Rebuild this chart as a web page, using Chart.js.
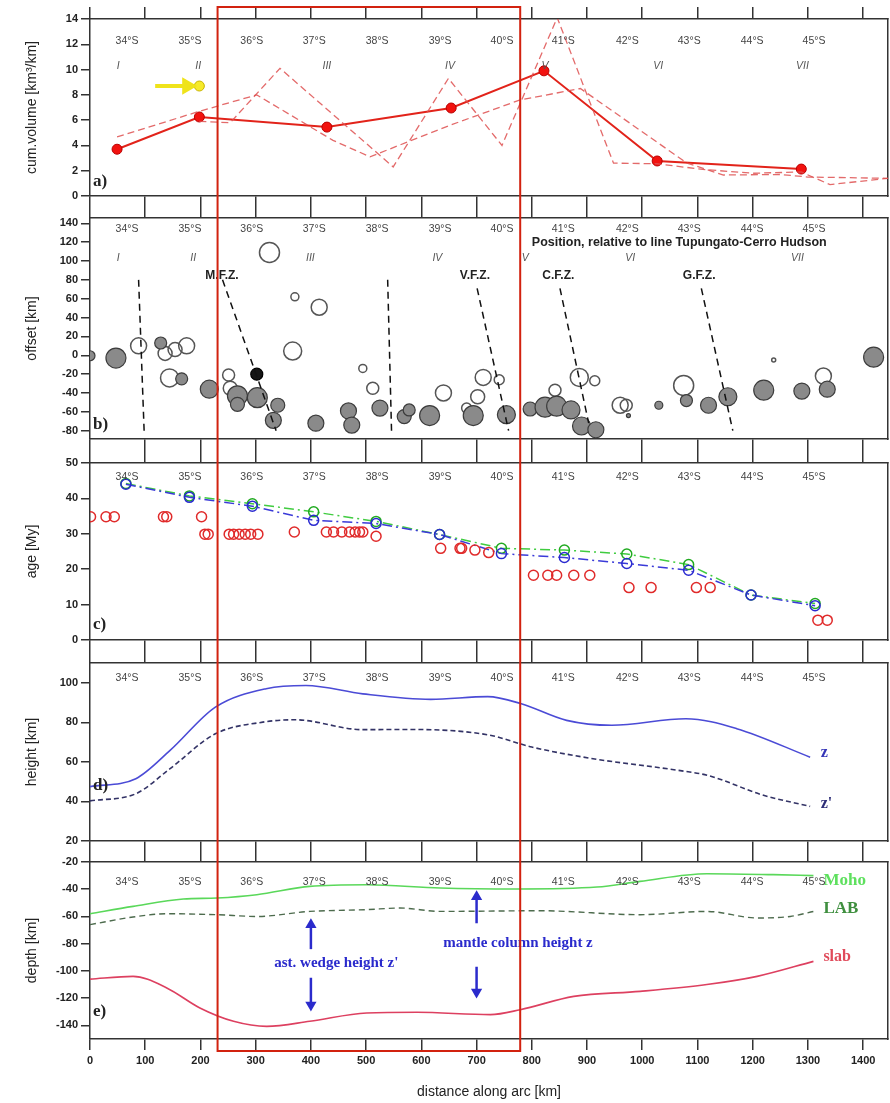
<!DOCTYPE html>
<html>
<head>
<meta charset="utf-8">
<script src="https://cdn.jsdelivr.net/npm/chart.js@4.4.1/dist/chart.umd.min.js"></script>
<style>
html,body{margin:0;padding:0;background:#ffffff;}
#wrap{position:relative;width:890px;height:1103px;overflow:hidden;background:#fff;}
#wrap canvas{position:absolute;left:0;display:block;}
</style>
</head>
<body>
<div id="wrap">
<canvas id="cA" width="890" height="207" style="top:0px"></canvas>
<canvas id="cB" width="890" height="244" style="top:207px"></canvas>
<canvas id="cC" width="890" height="200" style="top:451px"></canvas>
<canvas id="cD" width="890" height="200" style="top:651px"></canvas>
<canvas id="cE" width="890" height="252" style="top:851px"></canvas>
</div>
<script>
// ---------- shared axis data ----------
const X_MIN = 0, X_MAX = 1445;
const xTicks = [0,100,200,300,400,500,600,700,800,900,1000,1100,1200,1300,1400];
const latLabels = ['34°S','35°S','36°S','37°S','38°S','39°S','40°S','41°S','42°S','43°S','44°S','45°S'];
const latKm = [67,181,293,406,520,634,746,857,973,1085,1199,1311];
const romanLabels = ['I','II','III','IV','V','VI','VII'];
const romanKmA = [51,196,429,652,824,1029,1290];
const romanKmB = [51,187,399,629,788,978,1281];
const boxKm = [231,779];

// ---------- panel a: cumulative volume ----------
const yTicksA = [0,2,4,6,8,10,12,14];
const volKm = [49,198,429,654,822,1027,1288];
const volVal = [3.7,6.25,5.45,6.96,9.9,2.77,2.13];
const volShortKm = [198,254,344,549,649,746,846,948,1027,1110,1200,1288,1340,1445];
const volShortVal = [5.9,5.8,10.1,2.3,9.3,4.0,14.1,2.6,2.55,2.1,1.8,1.9,0.9,1.4];
const volLongKm = [49,198,302,440,507,652,779,888,1081,1147,1250,1300,1445];
const volLongVal = [4.67,6.7,8.0,4.4,3.1,5.6,7.6,8.5,2.6,1.66,1.7,1.5,1.4];
const yellowArrowKm = [118,176];
const yellowArrowVal = [8.7,8.7];
const yellowDotKm = [198];
const yellowDotVal = [8.7];

// ---------- panel b: offset ----------
const yTicksB = [-80,-60,-40,-20,0,20,40,60,80,100,120,140];
const fillKm = [0,47,128,166,216,267,267,303,340,332,409,468,474,525,569,578,615,694,754,797,824,845,871,890,916,1030,1080,1120,1155,1220,1289,1335,1419,975];
const fillOff = [-0.5,-3,13,-25,-36,-43,-52,-45,-53,-69,-72,-59,-74,-56,-65,-58,-64,-64,-63,-57,-55,-54,-58,-75,-79,-53,-48,-53,-44,-37,-38,-36,-2,-64];
const fillSize = [5,10,6,6,9,10,7,10,7,8,8,8,8,8,7,6,10,10,9,7,10,10,9,9,8,4,6,8,9,10,8,8,10,2];
const blackKm = [302];
const blackOff = [-20];
const blackSize = [6];
const openKm = [88,136,154,175,144,325,371,415,367,251,254,494,512,640,712,702,741,682,842,886,914,960,971,1075,1238,1328];
const openOff = [10,2,6,10,-24,109,62,51,4.5,-21,-35,-14,-35,-40,-23.5,-44,-26,-56,-37,-23.5,-27,-53,-53,-32,-5,-22];
const openSize = [8,7,7,8,9,10,4,8,9,6,7,4,6,8,8,7,5,5,6,9,5,8,6,10,2,8];
const fzNames = ['','M.F.Z.','','V.F.Z.','C.F.Z.','G.F.Z.'];
const fzLabelKm = [0,239,0,697,848,1103];
const fzTopKm = [88,240,539,701,851,1107];
const fzTopOff = [80,80,80,71,71,71];
const fzBotKm = [98,337,546,758,903,1164];
const fzBotOff = [-80,-80,-80,-80,-72,-80];

// ---------- panel c: age ----------
const yTicksC = [0,10,20,30,40,50];
const ageKm = [65,180,294,405,518,633,745,859,972,1084,1197,1313];
const ageGreen = [44.2,40.7,38.5,36.2,33.5,29.8,25.9,25.4,24.3,21.3,12.7,10.3];
const ageBlue = [44,40.3,37.8,33.8,32.9,29.8,24.4,23.3,21.6,19.7,12.7,9.7];
const volcKm = [1,29,44,133,139,202,208,214,252,260,270,281,291,304,370,428,441,456,470,480,488,494,518,635,670,673,697,722,803,829,845,876,905,976,1016,1098,1123,1318,1335];
const volcAge = [34.8,34.8,34.8,34.8,34.8,34.8,29.9,29.9,29.9,29.9,29.9,29.9,29.9,29.9,30.5,30.5,30.5,30.5,30.5,30.5,30.5,30.5,29.3,25.9,25.9,25.9,25.4,24.7,18.3,18.3,18.3,18.3,18.3,14.8,14.8,14.8,14.8,5.6,5.6];

// ---------- panel d: height ----------
const yTicksD = [20,40,60,80,100];
const hKm = [0,83,145,227,319,391,494,617,720,781,863,945,1079,1171,1304];
const hZ = [47.5,51.5,65.8,87.7,97,98.6,94.4,91.6,93,89.4,81,78.5,81.8,76.8,62.4];
const hZpKm = [0,83,145,227,313,371,494,575,720,800,911,1066,1118,1221,1304];
const hZp = [40.3,43.9,56.6,74.2,80.1,81.3,76.3,76.4,73.7,67.5,61.6,55.7,53.2,43,37.5];

// ---------- panel e: depth ----------
const yTicksE = [-140,-120,-100,-80,-60,-40,-20];
const mohoKm = [0,78,169,230,302,398,501,634,773,918,996,1117,1237,1310];
const moho = [-58,-52.6,-47.2,-46.4,-44,-37.9,-36.7,-39.1,-39.8,-38.4,-34.2,-28.6,-29.3,-30];
const labKm = [0,78,139,230,302,398,501,561,634,815,996,1117,1208,1268,1310];
const lab = [-66,-60.4,-58,-58.7,-60,-56.3,-55,-53.8,-56.3,-55.8,-58.7,-56.3,-61.1,-60,-56.3];
const slabKm = [0,78,139,199,260,320,398,501,592,725,779,876,996,1117,1208,1310];
const slab = [-106,-104,-112.5,-127.2,-137,-140.7,-137,-130.9,-130.4,-132.1,-128.5,-118.7,-115,-110,-104,-93];
const arrowUp1Km = [400,400], arrowUp1 = [-84,-66];
const arrowDn1Km = [400,400], arrowDn1 = [-105,-125];
const arrowUp2Km = [700,700], arrowUp2 = [-65,-45.5];
const arrowDn2Km = [700,700], arrowDn2 = [-97,-115.5];

// ---------- helpers ----------
const FONT = 'Liberation Sans';
const AX = '#333333';
const P = (xs, ys) => xs.map((x, i) => ({x: x, y: ys[i]}));
const B = (xs, ys, rs) => xs.map((x, i) => ({x: x, y: ys[i], r: rs[i]}));

const decorCfg = {
  a: {latDy: 22, romanKm: romanKmA, romanDy: 47, letter: 'a)', letterDy: 14, boxTop: 7},
  b: {latDy: 11, romanKm: romanKmB, romanDy: 40, letter: 'b)', letterDy: 14, fz: true,
      texts: [{text: 'Position, relative to line Tupungato-Cerro Hudson', x: 1067, dy: 25, font: 'bold 12.5px "Liberation Sans"', color: '#222', align: 'center'}]},
  c: {latDy: 14, letter: 'c)', letterDy: 15},
  d: {latDy: 15, letter: 'd)', letterDy: 55,
      texts: [{text: 'z', x: 1323, y: 64.5, font: 'bold 16px "Liberation Serif"', color: '#3535b8', align: 'left'},
              {text: "z'", x: 1323, y: 39, font: 'bold 16px "Liberation Serif"', color: '#2e2e78', align: 'left'}]},
  e: {latDy: 20, letter: 'e)', letterDy: 27, boxBottom: 200,
      texts: [{text: 'Moho', x: 1328, y: -33.5, font: 'bold 17px "Liberation Serif"', color: '#5ee05e', align: 'left'},
              {text: 'LAB', x: 1328, y: -54.2, font: 'bold 17px "Liberation Serif"', color: '#3f8f3f', align: 'left'},
              {text: 'slab', x: 1328, y: -89.5, font: 'bold 16px "Liberation Serif"', color: '#e04a5a', align: 'left'},
              {text: "ast. wedge height z'", x: 446, y: -94, font: 'bold 15px "Liberation Serif"', color: '#2a2acc', align: 'center'},
              {text: 'mantle column height z', x: 775, y: -79.3, font: 'bold 15px "Liberation Serif"', color: '#2a2acc', align: 'center'}]}
};

const decorPlugin = {
  id: 'decor',
  afterDraw(chart, args, opts) {
    const cfg = decorCfg[opts.panel];
    if (!cfg) return;
    const ctx = chart.ctx, ca = chart.chartArea;
    const xs = chart.scales.x, ys = chart.scales.y;
    ctx.save();
    ctx.textBaseline = 'middle';
    ctx.textAlign = 'center';
    ctx.font = '10.5px "Liberation Sans"';
    ctx.fillStyle = '#444';
    latLabels.forEach((t, i) => ctx.fillText(t, xs.getPixelForValue(latKm[i]), ca.top + cfg.latDy));
    if (cfg.romanKm) {
      ctx.font = 'italic 10.5px "Liberation Sans"';
      ctx.fillStyle = '#555';
      romanLabels.forEach((t, i) => ctx.fillText(t, xs.getPixelForValue(cfg.romanKm[i]), ca.top + cfg.romanDy));
    }
    if (cfg.fz) {
      ctx.font = 'bold 12px "Liberation Sans"';
      ctx.fillStyle = '#222';
      fzNames.forEach((t, i) => { if (t) ctx.fillText(t, xs.getPixelForValue(fzLabelKm[i]), ys.getPixelForValue(84)); });
    }
    (cfg.texts || []).forEach(t => {
      ctx.font = t.font; ctx.fillStyle = t.color; ctx.textAlign = t.align;
      const py = (t.dy !== undefined) ? ca.top + t.dy : ys.getPixelForValue(t.y);
      ctx.fillText(t.text, xs.getPixelForValue(t.x), py);
    });
    ctx.font = 'bold 17px "Liberation Serif"';
    ctx.fillStyle = '#222';
    ctx.textAlign = 'left';
    ctx.fillText(cfg.letter, ca.left + 3, ca.bottom - cfg.letterDy);
    // highlight box
    const l = xs.getPixelForValue(boxKm[0]), r = xs.getPixelForValue(boxKm[1]);
    const top = cfg.boxTop !== undefined ? cfg.boxTop : 0;
    const bot = cfg.boxBottom !== undefined ? cfg.boxBottom : chart.height;
    ctx.strokeStyle = '#d2220f';
    ctx.lineWidth = 2;
    ctx.beginPath();
    ctx.moveTo(l, top); ctx.lineTo(l, bot);
    ctx.moveTo(r, top); ctx.lineTo(r, bot);
    if (cfg.boxTop !== undefined) { ctx.moveTo(l - 1, top); ctx.lineTo(r + 1, top); }
    if (cfg.boxBottom !== undefined) { ctx.moveTo(l - 1, bot); ctx.lineTo(r + 1, bot); }
    ctx.stroke();
    ctx.restore();
  }
};
Chart.register(decorPlugin);

function xScale(pos, h, len, labels) {
  return {
    type: 'linear', position: pos, min: X_MIN, max: X_MAX,
    afterBuildTicks: s => { s.ticks = xTicks.map(v => ({value: v})); },
    afterFit: s => { s.height = h; },
    grid: {drawOnChartArea: false, drawTicks: true, tickLength: len, color: AX, lineWidth: 1.5},
    border: {display: true, color: AX, width: 1.5},
    ticks: {display: labels, autoSkip: false, maxRotation: 0, padding: 4, color: '#222', font: {family: FONT, size: 11, weight: 'bold'},
            callback: v => String(v)},
    title: {display: labels, text: 'distance along arc [km]', color: '#222', font: {family: FONT, size: 14}, padding: {top: 0, bottom: 2}}
  };
}
function yScale(min, max, ticks, title) {
  return {
    type: 'linear', position: 'left', min: min, max: max,
    afterBuildTicks: s => { s.ticks = ticks.map(v => ({value: v})); },
    afterFit: s => { s.width = 90; },
    grid: {drawOnChartArea: false, drawTicks: true, tickLength: 9, color: AX, lineWidth: 1.5},
    border: {display: true, color: AX, width: 1.5},
    ticks: {padding: 3, color: '#222', font: {family: FONT, size: 11, weight: 'bold'}, callback: v => String(v)},
    title: {display: true, text: title, color: '#222', font: {family: FONT, size: 14}, padding: {top: 24, bottom: 0}}
  };
}
function yRight() {
  return {
    type: 'linear', position: 'right', min: 0, max: 1,
    afterFit: s => { s.width = 0; },
    grid: {drawOnChartArea: false, drawTicks: false},
    ticks: {display: false},
    border: {display: true, color: AX, width: 1.5}
  };
}
function opts(panel, padTop, topLen, botH, botLen, labels, yS) {
  return {
    responsive: false, animation: false, events: [],
    layout: {autoPadding: false, padding: {top: padTop, right: 2, left: 0, bottom: 0}},
    plugins: {legend: {display: false}, tooltip: {enabled: false}, decor: {panel: panel}},
    scales: {
      x: xScale('bottom', botH, botLen, labels),
      x2: xScale('top', topLen, topLen, false),
      y: yS,
      y2: yRight()
    }
  };
}
const lineDs = (data, o) => Object.assign({type: 'line', data: data, showLine: true, pointRadius: 0, xAxisID: 'x', yAxisID: 'y', fill: false}, o);

// ---------- chart a ----------
new Chart(document.getElementById('cA'), {
  type: 'scatter',
  data: {datasets: [
    lineDs(P(volLongKm, volLongVal), {borderColor: 'rgba(222,80,80,0.85)', borderWidth: 1.3, borderDash: [7, 4]}),
    lineDs(P(volShortKm, volShortVal), {borderColor: 'rgba(222,80,80,0.85)', borderWidth: 1.3, borderDash: [7, 4]}),
    lineDs(P(volKm, volVal), {borderColor: '#e2231a', borderWidth: 2, pointRadius: 5, pointBackgroundColor: '#f2120f', pointBorderColor: '#b80000', pointBorderWidth: 1}),
    lineDs(P(yellowArrowKm, yellowArrowVal), {borderColor: '#efe31a', borderWidth: 4, pointRadius: [0, 6], pointStyle: 'triangle', pointRotation: 90, pointBackgroundColor: '#efe31a', pointBorderColor: '#efe31a'}),
    {type: 'scatter', data: P(yellowDotKm, yellowDotVal), xAxisID: 'x', yAxisID: 'y', pointRadius: 5, pointBackgroundColor: '#f6ea2a', pointBorderColor: '#c8b400', pointBorderWidth: 1}
  ]},
  options: opts('a', 7, 12, 11, 11, false, yScale(0, 14, yTicksA, 'cum.volume [km³/km]'))
});

// ---------- chart b ----------
const fzSets = fzTopKm.map((k, i) => lineDs(P([k, fzBotKm[i]], [fzTopOff[i], fzBotOff[i]]), {borderColor: '#111', borderWidth: 1.5, borderDash: [7, 5]}));
new Chart(document.getElementById('cB'), {
  type: 'scatter',
  data: {datasets: fzSets.concat([
    {type: 'bubble', data: B(fillKm, fillOff, fillSize), xAxisID: 'x', yAxisID: 'y', backgroundColor: '#8a8a8a', borderColor: '#3c3c3c', borderWidth: 1.2},
    {type: 'bubble', data: B(blackKm, blackOff, blackSize), xAxisID: 'x', yAxisID: 'y', backgroundColor: '#151515', borderColor: '#000', borderWidth: 1.2},
    {type: 'bubble', data: B(openKm, openOff, openSize), xAxisID: 'x', yAxisID: 'y', backgroundColor: 'rgba(255,255,255,0)', borderColor: '#555', borderWidth: 1.5}
  ])},
  options: opts('b', 0, 11, 12, 12, false, yScale(-88.8, 145.6, yTicksB, 'offset [km]'))
});

// ---------- chart c ----------
new Chart(document.getElementById('cC'), {
  type: 'scatter',
  data: {datasets: [
    {type: 'scatter', data: P(volcKm, volcAge), xAxisID: 'x', yAxisID: 'y', pointRadius: 5, pointBackgroundColor: 'rgba(0,0,0,0)', pointBorderColor: '#e02a2a', pointBorderWidth: 1.5},
    lineDs(P(ageKm, ageBlue), {borderColor: '#3a3ad8', borderWidth: 1.5, borderDash: [10, 4, 2, 4], pointRadius: 5, pointBackgroundColor: 'rgba(0,0,0,0)', pointBorderColor: '#2a2ad0', pointBorderWidth: 1.5}),
    lineDs(P(ageKm, ageGreen), {borderColor: '#40cc40', borderWidth: 1.5, borderDash: [10, 4, 2, 4], pointRadius: 5, pointBackgroundColor: 'rgba(0,0,0,0)', pointBorderColor: '#20aa20', pointBorderWidth: 1.5})
  ]},
  options: opts('c', 0, 12, 11, 11, false, yScale(0, 50, yTicksC, 'age [My]'))
});

// ---------- chart d ----------
new Chart(document.getElementById('cD'), {
  type: 'scatter',
  data: {datasets: [
    lineDs(P(hKm, hZ), {borderColor: '#4b4bd6', borderWidth: 1.6, cubicInterpolationMode: 'monotone'}),
    lineDs(P(hZpKm, hZp), {borderColor: '#333366', borderWidth: 1.6, borderDash: [5, 3], cubicInterpolationMode: 'monotone'})
  ]},
  options: opts('d', 0, 12, 10, 10, false, yScale(20, 110, yTicksD, 'height [km]'))
});

// ---------- chart e ----------
const arrowStyle = {borderColor: '#2b2bcc', borderWidth: 2.5, pointRadius: [0, 4], pointStyle: 'triangle', pointBackgroundColor: '#2b2bcc', pointBorderColor: '#2b2bcc'};
new Chart(document.getElementById('cE'), {
  type: 'scatter',
  data: {datasets: [
    lineDs(P(mohoKm, moho), {borderColor: '#5ad85a', borderWidth: 1.6, cubicInterpolationMode: 'monotone'}),
    lineDs(P(labKm, lab), {borderColor: '#4d6b4d', borderWidth: 1.4, borderDash: [6, 4], cubicInterpolationMode: 'monotone'}),
    lineDs(P(slabKm, slab), {borderColor: '#dd4060', borderWidth: 1.6, cubicInterpolationMode: 'monotone'}),
    lineDs(P(arrowUp1Km, arrowUp1), Object.assign({pointRotation: 0}, arrowStyle)),
    lineDs(P(arrowDn1Km, arrowDn1), Object.assign({pointRotation: 180}, arrowStyle)),
    lineDs(P(arrowUp2Km, arrowUp2), Object.assign({pointRotation: 0}, arrowStyle)),
    lineDs(P(arrowDn2Km, arrowDn2), Object.assign({pointRotation: 180}, arrowStyle))
  ]},
  options: opts('e', 0, 11, 64, 11, true, yScale(-150, -20, yTicksE, 'depth [km]'))
});
</script>
</body>
</html>
